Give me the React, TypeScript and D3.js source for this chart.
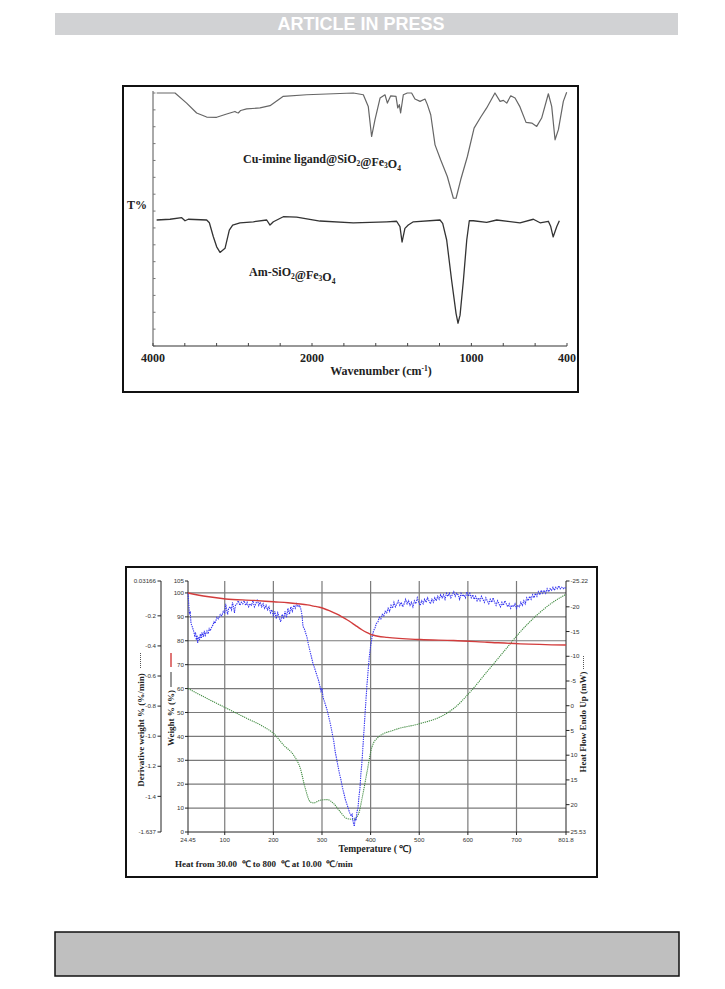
import React from 'react';
import * as d3 from 'd3';

// ---- FTIR spectra: [wavenumber (cm-1), T% in arbitrary units, 100 = top of plot] ----
const cuImineSpectrum: [number, number][] = [
  [3954, 100], [3723, 100], [3577, 96], [3451, 92.1], [3325, 90.5], [3199, 90.4],
  [3073, 91.7], [2969, 92.7], [2948, 92.3], [2927, 92.1], [2897, 93.1], [2822, 93.7],
  [2654, 94.1], [2528, 95.0], [2361, 98.7], [2067, 99.3], [1866, 99.7], [1741, 100],
  [1678, 99.3], [1647, 94.7], [1626, 82.8], [1605, 89.4], [1573, 98.0], [1542, 99.3],
  [1527, 96.0], [1506, 98.9], [1473, 98.7], [1462, 94.1], [1452, 95.4], [1444, 92.1],
  [1427, 99.3], [1402, 100], [1375, 100], [1354, 97.6], [1322, 96.7], [1291, 97.6],
  [1276, 95.4], [1255, 91.4], [1228, 79.5], [1193, 73.6], [1151, 67.0], [1113, 58.4],
  [1096, 58.4], [1067, 65.7], [1025, 74.9], [983, 86.1], [941, 90.5], [904, 94.1],
  [852, 100], [820, 96.7], [799, 97.1], [778, 96.0], [753, 98.9], [726, 98.0],
  [695, 94.5], [657, 88.4], [621, 88.1], [590, 86.8], [559, 90.1], [517, 99.7],
  [496, 94.7], [475, 81.5], [454, 85.5], [423, 96.7], [402, 100.3],
];

const amSiO2Spectrum: [number, number][] = [
  [3954, 49.8], [3786, 50.1], [3639, 50.7], [3597, 49.5], [3556, 50.1], [3325, 49.8],
  [3291, 48.7], [3241, 43.2], [3199, 39.2], [3157, 37.0], [3094, 38.6], [3040, 45.8],
  [2998, 47.8], [2906, 48.7], [2738, 49.1], [2570, 49.8], [2528, 47.8], [2486, 49.1],
  [2361, 51.1], [2193, 50.9], [1950, 49.4], [1741, 48.7], [1531, 49.1], [1469, 49.3],
  [1448, 47.2], [1435, 41.1], [1417, 46.5], [1396, 47.8], [1364, 49.1], [1197, 49.8],
  [1180, 48.5], [1155, 41.9], [1124, 26.0], [1096, 12.8], [1084, 9.0], [1071, 12.2],
  [1050, 26.0], [1029, 41.9], [1013, 49.5], [988, 49.5], [904, 48.9], [841, 49.8],
  [695, 48.7], [611, 50.1], [569, 48.7], [517, 49.3], [502, 47.2], [487, 43.1],
  [464, 47.2], [448, 49.5],
];

const ftirTicks = [4000, 3600, 3200, 2800, 2400, 2000, 1800, 1600, 1400, 1200, 1000, 800, 600, 400];
const ftirLabels = [4000, 2000, 1000, 400];

// ---- TGA / DTG / DSC: [temperature (C), value] ----
const weightCurve: [number, number][] = [
  [24.45, 100], [63.5, 98.5], [101.9, 97.5], [159.5, 96.9], [200.6, 96.3], [230, 95.9],
  [255.5, 95.4], [270, 95.0], [282.9, 94.5], [295, 94.0], [303.4, 93.5], [315, 92.6],
  [330.9, 91.1], [341, 90.0], [351.4, 88.8], [362, 87.4], [372, 86.0], [382, 84.6],
  [392.6, 83.4], [400, 82.7], [406.3, 82.3], [415, 81.9], [433.7, 81.4], [502.2, 80.5],
  [570.8, 80.1], [639.3, 79.4], [707.9, 78.7], [801.8, 78.2],
];

const derivCurve: [number, number][] = [
  [24.45, -0.05], [26, -0.12], [27.2, -0.19], [29, -0.17], [30.6, -0.25], [33, -0.27],
  [36, -0.3], [38, -0.33], [40, -0.31], [41.6, -0.36], [43, -0.33], [44.3, -0.38],
  [46, -0.34], [48, -0.36], [50, -0.32], [52, -0.35], [53.2, -0.31], [56, -0.34],
  [58, -0.3], [60, -0.33], [63.5, -0.3], [66, -0.32], [68, -0.28], [70, -0.3],
  [73.8, -0.27], [76, -0.26], [78, -0.24], [80, -0.25], [84, -0.21], [87, -0.22],
  [90.9, -0.19], [94, -0.2], [97, -0.17], [100, -0.18], [102, -0.12], [104, -0.16],
  [106, -0.19], [108, -0.15], [111.5, -0.14], [114, -0.16], [116, -0.11], [118, -0.14],
  [120, -0.18], [122, -0.13], [125, -0.12], [128, -0.1], [131, -0.13], [134, -0.11],
  [137, -0.12], [140, -0.1], [143, -0.13], [146, -0.11], [149, -0.14], [152, -0.12],
  [155, -0.13], [158, -0.1], [161, -0.14], [164, -0.12], [167, -0.09], [170, -0.13],
  [173, -0.11], [176, -0.14], [179, -0.12], [182, -0.15], [185, -0.13], [188, -0.16],
  [191, -0.14], [194, -0.18], [197, -0.16], [200, -0.2], [203, -0.17], [206, -0.22],
  [209, -0.18], [212, -0.21], [215, -0.24], [218, -0.19], [221, -0.22], [224, -0.17],
  [227, -0.21], [230, -0.15], [233, -0.19], [236, -0.14], [239, -0.17], [242, -0.13],
  [245, -0.15], [248, -0.12], [251, -0.14], [254, -0.13], [257, -0.16], [259, -0.2],
  [261, -0.27], [264, -0.29], [267, -0.32], [269, -0.34], [272, -0.39], [275, -0.43],
  [278, -0.47], [281, -0.51], [284, -0.54], [287, -0.57], [290, -0.6], [293, -0.63],
  [296, -0.67], [298, -0.7], [300, -0.68], [302, -0.74], [305, -0.77], [308, -0.8],
  [310, -0.82], [313, -0.86], [316, -0.9], [318, -0.93], [321, -0.98], [324, -1.03],
  [327, -1.1], [330, -1.15], [333, -1.2], [336, -1.25], [339, -1.29], [342, -1.34],
  [345, -1.38], [348, -1.42], [351, -1.45], [354, -1.48], [357, -1.51], [360, -1.53],
  [362, -1.52], [364, -1.57], [366.5, -1.6], [368, -1.55], [370, -1.56], [372, -1.5],
  [374, -1.48], [376, -1.4], [378, -1.35], [380, -1.25], [382, -1.18], [384, -1.08],
  [386, -0.98], [388, -0.88], [390, -0.78], [392, -0.68], [394, -0.6], [396, -0.52],
  [398, -0.45], [400, -0.4], [403, -0.34], [406, -0.3], [409, -0.28], [412, -0.25],
  [415, -0.24], [418, -0.21], [421, -0.22], [424, -0.19], [427, -0.2], [430, -0.17],
  [433, -0.18], [436, -0.15], [439, -0.17], [442, -0.13], [445, -0.15], [448, -0.11],
  [451, -0.14], [454, -0.12], [457, -0.1], [460, -0.13], [463, -0.11], [466, -0.14],
  [469, -0.12], [472, -0.09], [475, -0.12], [478, -0.1], [481, -0.13], [484, -0.11],
  [487, -0.14], [490, -0.1], [493, -0.12], [496, -0.08], [499, -0.11], [502, -0.13],
  [505, -0.1], [508, -0.12], [511, -0.09], [514, -0.11], [517, -0.08], [520, -0.1],
  [523, -0.12], [526, -0.09], [529, -0.11], [532, -0.08], [535, -0.1], [538, -0.07],
  [541, -0.09], [544, -0.06], [547, -0.08], [550, -0.06], [553, -0.09], [556, -0.05],
  [559, -0.07], [562, -0.05], [565, -0.08], [568, -0.06], [571, -0.04], [574, -0.07],
  [577, -0.05], [580, -0.06], [583, -0.09], [586, -0.05], [589, -0.07], [592, -0.06],
  [595, -0.08], [598, -0.04], [601, -0.07], [604, -0.05], [607, -0.08], [610, -0.06],
  [613, -0.09], [616, -0.07], [619, -0.1], [622, -0.08], [625, -0.1], [628, -0.07],
  [631, -0.09], [634, -0.11], [637, -0.08], [640, -0.1], [643, -0.12], [646, -0.09],
  [649, -0.11], [652, -0.08], [655, -0.11], [658, -0.13], [661, -0.1], [664, -0.12],
  [667, -0.14], [670, -0.11], [673, -0.13], [676, -0.1], [679, -0.12], [682, -0.14],
  [685, -0.12], [688, -0.15], [691, -0.13], [694, -0.14], [697, -0.12], [700, -0.15],
  [703, -0.13], [706, -0.14], [709, -0.11], [712, -0.13], [715, -0.1], [718, -0.12],
  [721, -0.08], [724, -0.1], [727, -0.07], [730, -0.09], [733, -0.06], [736, -0.08],
  [739, -0.05], [742, -0.07], [745, -0.04], [748, -0.06], [751, -0.03], [754, -0.05],
  [757, -0.03], [760, -0.05], [763, -0.02], [766, -0.04], [769, -0.02], [772, -0.03],
  [775, -0.01], [778, -0.03], [781, -0.01], [784, -0.02], [787, 0.0], [790, -0.02],
  [793, -0.01], [796, -0.02], [799, -0.01], [801.8, -0.02],
];

const heatFlowCurve: [number, number][] = [
  [24.45, -3.49], [63.5, -1.47], [101.9, 0.42], [138.9, 2.24], [180.1, 4.27], [200.6, 5.62],
  [221.2, 7.98], [241.7, 10.0], [255.5, 12.7], [265.7, 16.75], [276.0, 19.45], [282.9, 19.65],
  [296.6, 19.11], [310.3, 18.98], [324.0, 19.78], [337.7, 21.47], [351.4, 22.82], [365.1, 22.96],
  [375.4, 21.81], [382.3, 18.78], [392.6, 13.38], [402.8, 8.32], [416.6, 6.29], [447.4, 4.94],
  [502.2, 3.59], [543.4, 2.24], [570.8, 0.56], [605.1, -2.82], [639.3, -6.87], [673.6, -10.92],
  [707.9, -14.96], [742.2, -18.34], [776.5, -21.04], [801.8, -22.52],
];

const tempTicks = ['24.45', '100', '200', '300', '400', '500', '600', '700', '801.8'];
const weightTicks = ['0', '10', '20', '30', '40', '50', '60', '70', '80', '90', '100', '105'];
const derivTicks = ['0.03166', '-0.2', '-0.4', '-0.6', '-0.8', '-1.0', '-1.2', '-1.4', '-1.637'];
const heatTicks = ['-25.22', '-20', '-15', '-10', '-5', '0', '5', '10', '15', '20', '25.53'];

const SERIF = '"Liberation Serif", "Times New Roman", serif';
const SANS = '"Liberation Sans", Arial, sans-serif';

const Sub = ({ children }: { children: string }) => (
  <>
    <tspan fontSize="7.5" dy="2.5">{children}</tspan>
    <tspan dy="-2.5" />
  </>
);

const FtirChart = () => {
  const x = d3.scaleLinear().domain([4000, 2000, 400]).range([153, 312, 567]);
  const y = d3.scaleLinear().domain([0, 100]).range([346, 93]);
  const line = d3
    .line<[number, number]>()
    .x((d) => x(d[0]))
    .y((d) => y(d[1]));
  const yTicks = d3.range(16).map((i) => (i * 100) / 15);

  return (
    <g>
      <rect x={123} y={86} width={455} height={306} fill="#fff" stroke="#111" strokeWidth={2} />
      <line x1={x(4000)} x2={x(4000)} y1={y(100) - 2} y2={y(0)} stroke="#555" strokeWidth={1} />
      <line x1={x(4000)} x2={x(400)} y1={y(0)} y2={y(0)} stroke="#333" strokeWidth={1.2} />
      {yTicks.map((t) => (
        <line key={t} x1={x(4000)} x2={x(4000) + 2.5} y1={y(t)} y2={y(t)} stroke="#777" />
      ))}
      {ftirTicks.map((t) => (
        <line key={t} x1={x(t)} x2={x(t)} y1={y(0)} y2={y(0) - 3} stroke="#444" />
      ))}
      {ftirLabels.map((t) => (
        <text key={t} x={x(t)} y={362} textAnchor="middle" fontFamily={SERIF} fontWeight="bold" fontSize={12} fill="#222">
          {t}
        </text>
      ))}
      <text x={381} y={375} textAnchor="middle" fontFamily={SERIF} fontWeight="bold" fontSize={12} fill="#222">
        Wavenumber (cm<tspan fontSize="7.5" dy="-4">-1</tspan><tspan dy="4">)</tspan>
      </text>
      <text x={127} y={209} fontFamily={SERIF} fontWeight="bold" fontSize={12} fill="#222">T%</text>

      <path d={line(cuImineSpectrum) || ''} fill="none" stroke="#666" strokeWidth={1.2} strokeLinejoin="round" />
      <path d={line(amSiO2Spectrum) || ''} fill="none" stroke="#333" strokeWidth={1.3} strokeLinejoin="round" />

      <text x={243} y={163} fontFamily={SERIF} fontWeight="bold" fontSize={12} fill="#222">
        Cu-imine ligand@SiO<Sub>2</Sub>@Fe<Sub>3</Sub>O<Sub>4</Sub>
      </text>
      <text x={249} y={276} fontFamily={SERIF} fontWeight="bold" fontSize={12} fill="#222">
        Am-SiO<Sub>2</Sub>@Fe<Sub>3</Sub>O<Sub>4</Sub>
      </text>
    </g>
  );
};

const TgaChart = () => {
  const x = d3.scaleLinear().domain([24.45, 801.8]).range([188, 566]);
  const yW = d3.scaleLinear().domain([0, 105]).range([832, 581]);
  const yD = d3.scaleLinear().domain([-1.637, 0.03166]).range([832, 581]);
  const yH = d3.scaleLinear().domain([25.53, -25.22]).range([832, 581]);

  const weightLine = d3.line<[number, number]>().x((d) => x(d[0])).y((d) => yW(d[1])).curve(d3.curveMonotoneX);
  const derivLine = d3.line<[number, number]>().x((d) => x(d[0])).y((d) => yD(d[1]));
  const heatLine = d3.line<[number, number]>().x((d) => x(d[0])).y((d) => yH(d[1])).curve(d3.curveMonotoneX);

  const gridT = tempTicks.slice(1, -1).map(Number);
  const gridW = weightTicks.slice(1, -1).map(Number);
  const tickFont = { fontFamily: SANS, fontSize: 6.2, fill: '#333' };

  return (
    <g>
      <rect x={126} y={567} width={471} height={310} fill="#fff" stroke="#111" strokeWidth={2} />

      {/* grid */}
      {gridT.map((t) => (
        <line key={t} x1={x(t)} x2={x(t)} y1={yW(105)} y2={yW(0)} stroke="#7a7a7a" strokeWidth={1.2} />
      ))}
      {gridW.map((w) => (
        <line key={w} x1={x(24.45)} x2={x(801.8)} y1={yW(w)} y2={yW(w)} stroke="#7a7a7a" strokeWidth={1.2} />
      ))}

      {/* weight axis */}
      <line x1={x(24.45)} x2={x(24.45)} y1={yW(105)} y2={yW(0)} stroke="#222" />
      {weightTicks.map((t) => (
        <g key={t}>
          <line x1={x(24.45) - 3} x2={x(24.45)} y1={yW(+t)} y2={yW(+t)} stroke="#222" />
          <text x={x(24.45) - 4} y={yW(+t) + 2.2} textAnchor="end" {...tickFont}>{t}</text>
        </g>
      ))}

      {/* derivative axis */}
      <line x1={161} x2={161} y1={yD(0.03166)} y2={yD(-1.637)} stroke="#222" />
      {derivTicks.map((t) => (
        <g key={t}>
          <line x1={157.5} x2={161} y1={yD(+t)} y2={yD(+t)} stroke="#222" />
          <text x={156} y={yD(+t) + 2.2} textAnchor="end" {...tickFont}>{t}</text>
        </g>
      ))}

      {/* heat flow axis */}
      <line x1={x(801.8)} x2={x(801.8)} y1={yH(-25.22)} y2={yH(25.53)} stroke="#222" />
      {heatTicks.map((t) => (
        <g key={t}>
          <line x1={x(801.8)} x2={x(801.8) + 3.5} y1={yH(+t)} y2={yH(+t)} stroke="#222" />
          <text x={x(801.8) + 4.5} y={yH(+t) + 2.2} textAnchor="start" {...tickFont}>{t}</text>
        </g>
      ))}

      {/* temperature axis */}
      <line x1={x(24.45)} x2={x(801.8)} y1={yW(0)} y2={yW(0)} stroke="#222" />
      {tempTicks.map((t) => (
        <g key={t}>
          <line x1={x(+t)} x2={x(+t)} y1={yW(0)} y2={yW(0) + 3} stroke="#222" />
          <text x={x(+t)} y={yW(0) + 9.5} textAnchor="middle" {...tickFont}>{t}</text>
        </g>
      ))}

      {/* curves */}
      <path d={heatLine(heatFlowCurve) || ''} fill="none" stroke="#3f8a3f" strokeWidth={1.1} strokeDasharray="1.2 0.9" />
      <path d={derivLine(derivCurve) || ''} fill="none" stroke="#3434f0" strokeWidth={1.1} strokeDasharray="1.4 0.9" />
      <path d={weightLine(weightCurve) || ''} fill="none" stroke="#d23c3c" strokeWidth={1.4} />

      {/* axis titles */}
      <text transform="translate(143.5,730) rotate(-90)" textAnchor="middle" fontFamily={SERIF} fontWeight="bold" fontSize={9} fill="#222">
        Derivative weight % (%/min)
      </text>
      <line x1={140.5} x2={140.5} y1={653} y2={668} stroke="#555" strokeDasharray="1 1" />
      <text transform="translate(173.5,718) rotate(-90)" textAnchor="middle" fontFamily={SERIF} fontWeight="bold" fontSize={9} fill="#222">
        Weight % (%)
      </text>
      <line x1={171} x2={171} y1={653} y2={667} stroke="#d23c3c" strokeWidth={1.4} />
      <line x1={171} x2={171} y1={672} y2={687} stroke="#555" strokeWidth={1.2} />
      <text transform="translate(586,722) rotate(-90)" textAnchor="middle" fontFamily={SERIF} fontWeight="bold" fontSize={9} fill="#222">
        Heat Flow Endo Up (mW)
      </text>
      <line x1={583.5} x2={583.5} y1={656} y2={670} stroke="#555" strokeDasharray="1 1" />

      <text x={375} y={852} textAnchor="middle" fontFamily={SERIF} fontWeight="bold" fontSize={9.5} fill="#222" style={{ whiteSpace: 'pre' }}>
        Temperature ( ℃)
      </text>
      <text x={175} y={867} fontFamily={SERIF} fontWeight="bold" fontSize={9} fill="#222" style={{ whiteSpace: 'pre' }}>
        {'Heat from 30.00  ℃ to 800  ℃ at 10.00  ℃/min'}
      </text>
    </g>
  );
};

const App = () => (
  <div style={{ position: 'absolute', left: 0, top: 0 }}>
    <svg width={725} height={989} viewBox="0 0 725 989" style={{ display: 'block', background: '#fff' }}>
      <rect x={55} y={13} width={623} height={22} fill="#d1d2d4" />
      <text x={361} y={30} textAnchor="middle" fontFamily={SANS} fontWeight="bold" fontSize={18} fill="#fff">
        ARTICLE IN PRESS
      </text>

      <FtirChart />
      <TgaChart />

      <rect x={55} y={932} width={624} height={44} fill="#bfbfbf" stroke="#111" strokeWidth={1.5} />
    </svg>
  </div>
);

export default App;
